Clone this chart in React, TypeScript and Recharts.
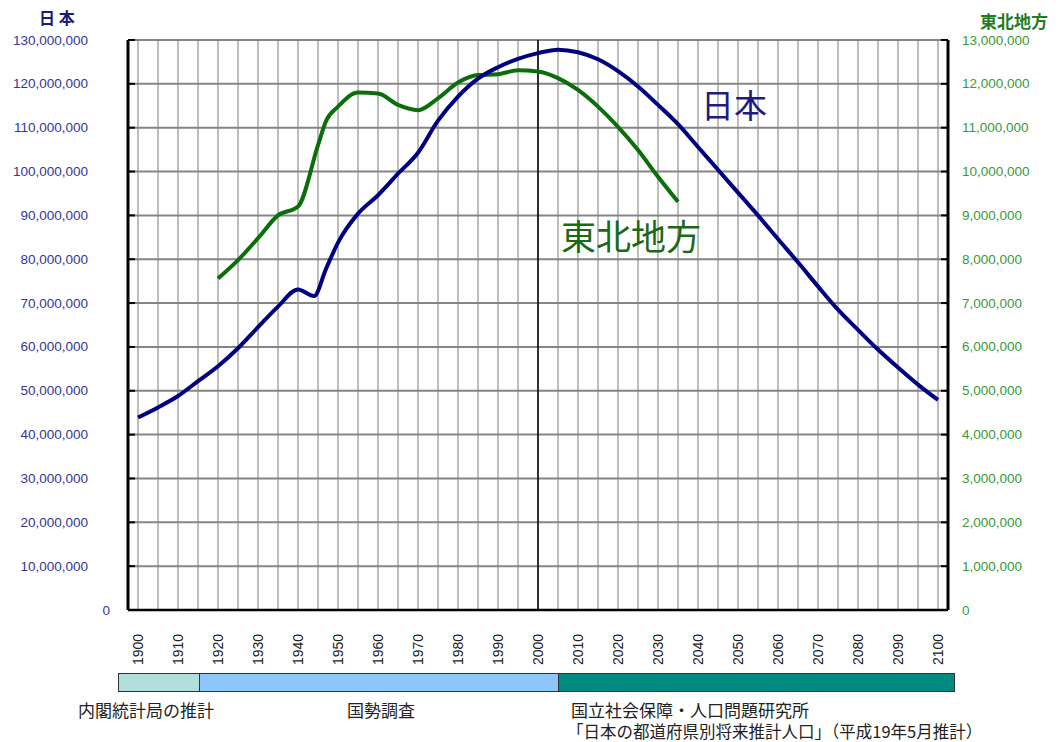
import React from 'react';
import { LineChart, Line, XAxis, YAxis, CartesianGrid, ReferenceLine } from 'recharts';

// 日本の人口（推計・国勢調査・将来推計）
const japanYears = [
  1900, 1905, 1910, 1915, 1920, 1925, 1930, 1935, 1940, 1944, 1947, 1950, 1955, 1960, 1965,
  1970, 1975, 1980, 1985, 1990, 1995, 2000, 2005, 2010, 2015, 2020, 2025, 2030, 2035, 2040,
  2045, 2050, 2055, 2060, 2065, 2070, 2075, 2080, 2085, 2090, 2095, 2100,
];
const japanPop = [
  43900000, 46200000, 48800000, 52200000, 55600000, 59700000, 64500000, 69200000, 73100000,
  71600000, 77800000, 83800000, 90400000, 94600000, 99500000, 104300000, 111600000, 117100000,
  121200000, 123800000, 125700000, 127000000, 127800000, 127200000, 125600000, 122900000,
  119400000, 115200000, 110800000, 105600000, 100400000, 95200000, 90000000, 84600000,
  79300000, 73800000, 68500000, 63900000, 59400000, 55300000, 51400000, 47900000,
];

// 東北地方の人口
const tohokuYears = [
  1920, 1925, 1930, 1935, 1940, 1945, 1947, 1950, 1955, 1960, 1965, 1970, 1975, 1980, 1985,
  1990, 1995, 2000, 2005, 2010, 2015, 2020, 2025, 2030, 2035,
];
const tohokuPop = [
  7560000, 7980000, 8480000, 9000000, 9200000, 10600000, 11150000, 11480000, 11800000,
  11780000, 11520000, 11400000, 11670000, 12030000, 12200000, 12220000, 12310000, 12280000,
  12130000, 11860000, 11480000, 11020000, 10490000, 9880000, 9310000,
];

const yearTicks = Array.from({ length: 41 }, (_, i) => 1900 + i * 5);
const leftTicks = Array.from({ length: 14 }, (_, i) => i * 10000000);
const rightTicks = Array.from({ length: 14 }, (_, i) => i * 1000000);

const sourceLabels = ['内閣統計局の推計', '国勢調査', '国立社会保障・人口問題研究所'];
const sourceNote = '「日本の都道府県別将来推計人口」（平成19年5月推計）';

const allYears = Array.from(new Set([...japanYears, ...tohokuYears])).sort((a, b) => a - b);
const chartData = allYears.map((year) => {
  const j = japanYears.indexOf(year);
  const t = tohokuYears.indexOf(year);
  return {
    year,
    japan: j >= 0 ? japanPop[j] : null,
    tohoku: t >= 0 ? tohokuPop[t] : null,
  };
});

const numFont = '"Liberation Sans", Arial, sans-serif';
const jpFont = '"Noto Sans CJK JP", sans-serif';

function LeftTick({ x, y, payload }: any) {
  const v = payload.value as number;
  return (
    <g>
      <line x1={x} x2={x + 7} y1={y} y2={y} stroke="#000" strokeWidth={2} />
      <text
        x={v === 0 ? 110 : 88}
        y={y}
        textAnchor="end"
        dominantBaseline="central"
        fill="#343499"
        fontSize={13.5}
        fontFamily={numFont}
      >
        {v.toLocaleString('en-US')}
      </text>
    </g>
  );
}

function RightTick({ x, y, payload }: any) {
  const v = payload.value as number;
  return (
    <g>
      <line x1={x - 7} x2={x} y1={y} y2={y} stroke="#000" strokeWidth={2} />
      <text
        x={x + 14}
        y={y}
        textAnchor="start"
        dominantBaseline="central"
        fill="#379a37"
        fontSize={13.5}
        fontFamily={numFont}
      >
        {v.toLocaleString('en-US')}
      </text>
    </g>
  );
}

function YearTick({ x, y, payload }: any) {
  const v = payload.value as number;
  if (v % 10 !== 0) return <g />;
  return (
    <text
      transform={`translate(${x},${y + 55}) rotate(-90)`}
      textAnchor="start"
      dominantBaseline="central"
      fill="#222"
      fontSize={14}
      fontFamily={numFont}
    >
      {v}
    </text>
  );
}

const srcStyle: React.CSSProperties = {
  position: 'absolute',
  fontFamily: jpFont,
  fontSize: 17,
  color: '#222',
  whiteSpace: 'nowrap',
  lineHeight: 1,
};

export default function App() {
  return (
    <div style={{ position: 'absolute', left: 0, top: 0, width: 1059, height: 742, background: '#fff' }}>
      <LineChart
        width={1059}
        height={742}
        data={chartData}
        margin={{ top: 40, right: 0, bottom: 102, left: 0 }}
      >
        <CartesianGrid horizontal={false} stroke="#bdbdbd" strokeWidth={2} />
        <CartesianGrid yAxisId="left" vertical={false} stroke="#858585" strokeWidth={2} />
        <XAxis
          dataKey="year"
          type="number"
          domain={[1897.5, 2102.5]}
          ticks={yearTicks}
          interval={0}
          height={30}
          tickSize={0}
          tickMargin={0}
          tickLine={false}
          axisLine={{ stroke: '#000', strokeWidth: 2.5 }}
          tick={<YearTick />}
          allowDataOverflow
        />
        <YAxis
          yAxisId="left"
          width={128}
          domain={[0, 130000000]}
          ticks={leftTicks}
          interval={0}
          tickSize={0}
          tickMargin={0}
          tickLine={false}
          axisLine={{ stroke: '#000', strokeWidth: 3 }}
          tick={<LeftTick />}
        />
        <YAxis
          yAxisId="right"
          orientation="right"
          width={111}
          domain={[0, 13000000]}
          ticks={rightTicks}
          interval={0}
          tickSize={0}
          tickMargin={0}
          tickLine={false}
          axisLine={{ stroke: '#000', strokeWidth: 3 }}
          tick={<RightTick />}
        />
        <ReferenceLine yAxisId="left" x={2000} stroke="#000" strokeWidth={1.5} />
        <Line
          yAxisId="right"
          type="monotone"
          dataKey="tohoku"
          stroke="#0a6e0a"
          strokeWidth={4}
          dot={false}
          connectNulls
          isAnimationActive={false}
        />
        <Line
          yAxisId="left"
          type="monotone"
          dataKey="japan"
          stroke="#000080"
          strokeWidth={4}
          dot={false}
          connectNulls
          isAnimationActive={false}
        />
      </LineChart>

      {/* 軸タイトル */}
      <div style={{ position: 'absolute', left: 39, top: 9, fontFamily: jpFont, fontWeight: 700, fontSize: 16, color: '#1b1b7e', whiteSpace: 'pre', lineHeight: 1 }}>
        日 本
      </div>
      <div style={{ position: 'absolute', left: 980, top: 12, fontFamily: jpFont, fontWeight: 700, fontSize: 17, color: '#1f7d1f', lineHeight: 1 }}>
        東北地方
      </div>

      {/* 系列ラベル */}
      <div style={{ position: 'absolute', left: 701, top: 85, fontFamily: jpFont, fontSize: 33, color: '#1c1c82', lineHeight: 1.2 }}>
        日本
      </div>
      <div style={{ position: 'absolute', left: 561, top: 214, fontFamily: jpFont, fontSize: 35, color: '#1a6a1a', lineHeight: 1.2 }}>
        東北地方
      </div>

      {/* 出典の帯 */}
      <div style={{ position: 'absolute', left: 118, top: 673, width: 82, height: 19, background: '#b2dfdc', border: '1px solid #333', boxSizing: 'border-box' }} />
      <div style={{ position: 'absolute', left: 199, top: 673, width: 360, height: 19, background: '#8cc6fb', border: '1px solid #333', boxSizing: 'border-box' }} />
      <div style={{ position: 'absolute', left: 558, top: 673, width: 397, height: 19, background: '#008a80', border: '1px solid #333', boxSizing: 'border-box' }} />

      <div style={{ ...srcStyle, left: 78, top: 701 }}>{sourceLabels[0]}</div>
      <div style={{ ...srcStyle, left: 347, top: 701 }}>{sourceLabels[1]}</div>
      <div style={{ ...srcStyle, left: 571, top: 701, lineHeight: '21px', marginTop: -2 }}>
        {sourceLabels[2]}
        <br />
        <span style={{ fontSize: 16.5, marginLeft: -4 }}>{sourceNote}</span>
      </div>
    </div>
  );
}
